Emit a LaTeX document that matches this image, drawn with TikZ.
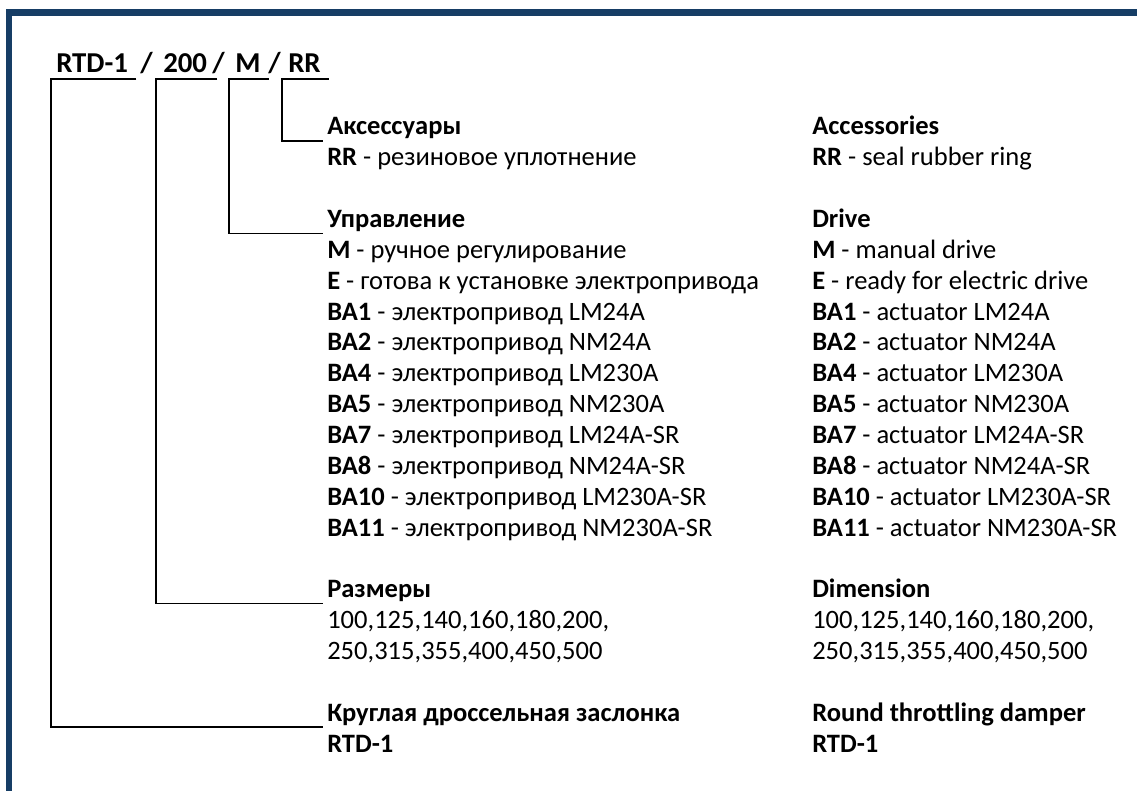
\documentclass[tikz,border=0pt]{standalone}
\usepackage{fontspec}
\setmainfont{Carlito}

\definecolor{frameblue}{RGB}{22,61,101}

\tikzset{
  txt/.style={anchor=base west, inner sep=0pt, font=\fontsize{19.9}{23}\selectfont},
  ttl/.style={anchor=base west, inner sep=0pt, font=\fontsize{21.6}{25}\selectfont\bfseries},
  lead/.style={line width=1.1pt},
  frame/.style={line width=4.8pt, draw=frameblue}
}

\begin{document}
\begin{tikzpicture}[x=0.75pt,y=-0.75pt]
  \useasboundingbox (0,0) rectangle (1137,791);
  \draw[frame] (9,791) -- (9,12.5) -- (1137,12.5);
  % order code
  \node[ttl] (code) at (56,73) {RTD-1};
  \node[ttl] (sl1) at (140,73) {/};
  \node[ttl] (size) at (163,73) {200};
  \node[ttl] (sl2) at (212,73) {/};
  \node[ttl] (ctrl) at (235,73) {M};
  \node[ttl] (sl3) at (268,73) {/};
  \node[ttl] (acc) at (288,73) {RR};
  % two columns, row i on baseline 135+30.85i
  \foreach \i/\l/\r in {
      0/{\textbf{Аксессуары}}/{\textbf{Accessories}},
      1/{\textbf{RR} - резиновое уплотнение}/{\textbf{RR} - seal rubber ring},
      3/{\textbf{Управление}}/{\textbf{Drive}},
      4/{\textbf{M} - ручное регулирование}/{\textbf{M} - manual drive},
      5/{\textbf{E} - готова к установке электропривода}/{\textbf{E} - ready for electric drive},
      15/{\textbf{Размеры}}/{\textbf{Dimension}},
      16/{100,125,140,160,180,200,}/{100,125,140,160,180,200,},
      17/{250,315,355,400,450,500}/{250,315,355,400,450,500},
      19/{\textbf{Круглая дроссельная заслонка}}/{\textbf{Round throttling damper}},
      20/{\textbf{RTD-1}}/{\textbf{RTD-1}}}
  {
    \node[txt] (l\i) at (327,{135+30.85*\i}) {\l};
    \node[txt] (r\i) at (812,{135+30.85*\i}) {\r};
  }
  \foreach \n/\m [count=\i from 6] in {1/LM24A,2/NM24A,4/LM230A,5/NM230A,
      7/LM24A-SR,8/NM24A-SR,10/LM230A-SR,11/NM230A-SR}
  {
    \node[txt] (l\i) at (327,{135+30.85*\i}) {\textbf{BA\n} - электропривод \m};
    \node[txt] (r\i) at (812,{135+30.85*\i}) {\textbf{BA\n} - actuator \m};
  }
  % leaders from code parts to headings
  \foreach \c/\h/\a/\b in {code/l19/5/8, size/l15/7/10, ctrl/l3/6/8, acc/l0/6/8}
    \draw[lead] ([shift={(\b,6)}]\c.base east) -- ([shift={(-\a,6)}]\c.base west)
      |- ([shift={(-4,6)}]\h.base west);
\end{tikzpicture}
\end{document}
